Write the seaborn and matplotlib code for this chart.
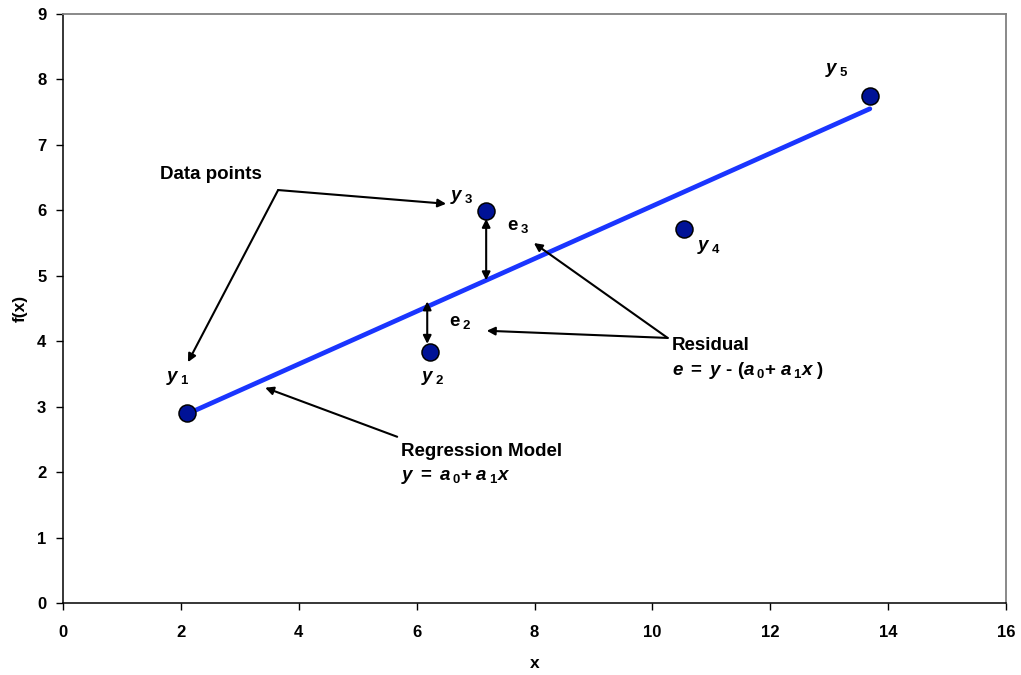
import matplotlib
matplotlib.use("Agg")
import matplotlib.pyplot as plt
import seaborn as sns
import numpy as np
import pandas as pd

# ---- data ----
x_values = [2.10, 6.23, 7.18, 10.54, 13.69]
y_values = [2.90, 3.84, 5.99, 5.72, 7.75]
x_ticks = [0, 2, 4, 6, 8, 10, 12, 14, 16]
y_ticks = [0, 1, 2, 3, 4, 5, 6, 7, 8, 9]

df = pd.DataFrame({"x": x_values, "f(x)": y_values})

sns.set_theme(style="white")
plt.rcParams["font.family"] = ["Liberation Sans", "DejaVu Sans"]
plt.rcParams["text.color"] = "black"
plt.rcParams["axes.labelcolor"] = "black"
plt.rcParams["xtick.color"] = "black"
plt.rcParams["ytick.color"] = "black"
plt.rcParams["mathtext.fontset"] = "custom"
plt.rcParams["mathtext.it"] = "Liberation Sans:italic:bold"
plt.rcParams["mathtext.rm"] = "Liberation Sans:bold"
plt.rcParams["mathtext.bf"] = "Liberation Sans:bold"
plt.rcParams["mathtext.sf"] = "Liberation Sans:bold"

fig = plt.figure(figsize=(10.21, 6.75), dpi=100)
ax = fig.add_axes([63 / 1021, 72 / 675, 943 / 1021, 589 / 675])

# regression line (least squares through the data)
sns.regplot(data=df, x="x", y="f(x)", ax=ax, scatter=False, ci=None,
            truncate=True, line_kws=dict(color="#1a35ff", lw=3.4,
                                         solid_capstyle="round", zorder=2))
slope, intercept = np.polyfit(x_values, y_values, 1)

sns.scatterplot(data=df, x="x", y="f(x)", ax=ax, s=150, color="#001296",
                edgecolor="black", linewidth=1.1, zorder=4)

ax.set_xlim(0, 16)
ax.set_ylim(0, 9)
ax.set_xticks(x_ticks)
ax.set_yticks(y_ticks)
ax.tick_params(axis="both", which="both", direction="out", length=5, width=1,
               color="black", labelcolor="black", labelsize=12, bottom=True, left=True)
ax.tick_params(axis="x", pad=11)
ax.tick_params(axis="y", pad=7)
for lab in ax.get_xticklabels() + ax.get_yticklabels():
    lab.set_fontweight("bold")
ax.set_xlabel("x", fontsize=12.5, fontweight="bold", labelpad=11, color="black")
ax.set_ylabel("f(x)", fontsize=12.5, fontweight="bold", labelpad=7, color="black")

for side in ["left", "bottom"]:
    ax.spines[side].set_color("black")
    ax.spines[side].set_linewidth(1.1)
for side in ["top", "right"]:
    ax.spines[side].set_color("#808080")
    ax.spines[side].set_linewidth(1.3)

fs = 13.5
arrow = dict(arrowstyle="-|>", color="black", lw=1.5, mutation_scale=12,
             shrinkA=0, shrinkB=0)
darrow = dict(arrowstyle="<|-|>", color="black", lw=1.5, mutation_scale=12,
              shrinkA=0, shrinkB=0)

# point labels
pt_labels = [r"$y\,{}_{1}$", r"$y\,{}_{2}$", r"$y\,{}_{3}$", r"$y\,{}_{4}$", r"$y\,{}_{5}$"]
label_pos = [(1.75, 3.44), (6.07, 3.44), (6.57, 6.20), (10.76, 5.44), (12.93, 8.14)]
for t, (lx, ly) in zip(pt_labels, label_pos):
    ax.text(lx, ly, t, fontsize=fs, ha="left", va="center")

# residual labels
ax.text(7.53, 5.76, r"$\mathrm{e}\,{}_{3}$", fontsize=fs, ha="left", va="center")
ax.text(6.55, 4.29, r"$\mathrm{e}\,{}_{2}$", fontsize=fs, ha="left", va="center")

# residual vertical arrows
for i, off in [(1, -0.05), (2, 0.0)]:
    xi = x_values[i] + off
    yhat = intercept + slope * xi
    ytop = y_values[i] - 0.12 if y_values[i] > yhat else y_values[i] + 0.12
    ax.annotate("", xy=(xi, ytop), xytext=(xi, yhat + (0.08 if y_values[i] < yhat else 0.0)),
                arrowprops=darrow, zorder=5)

# Data points callout
ax.text(1.65, 6.54, "Data points", fontsize=fs, fontweight="bold", ha="left", va="center")
ax.annotate("", xy=(6.50, 6.10), xytext=(3.65, 6.31), arrowprops=arrow)
ax.annotate("", xy=(2.12, 3.68), xytext=(3.65, 6.31), arrowprops=arrow)

# Residual callout
ax.text(10.33, 3.94, "Residual", fontsize=fs, fontweight="bold", ha="left", va="center")
ax.text(10.33, 3.56, r"$e\;\mathrm{=}\;y\ \text{-}\ \mathrm{(}a\,{}_{0}\mathrm{+}\;a\,{}_{1}x\;\mathrm{)}$",
        fontsize=fs, ha="left", va="center")
ax.annotate("", xy=(7.19, 4.16), xytext=(10.26, 4.05), arrowprops=arrow)
ax.annotate("", xy=(7.99, 5.50), xytext=(10.26, 4.05), arrowprops=arrow)

# Regression model callout
ax.text(5.73, 2.31, "Regression Model", fontsize=fs, fontweight="bold", ha="left", va="center")
ax.text(5.73, 1.93, r"$y\;\mathrm{=}\;a\,{}_{0}\mathrm{+}\;a\,{}_{1}x$", fontsize=fs, ha="left", va="center")
ax.annotate("", xy=(3.43, 3.29), xytext=(5.67, 2.54), arrowprops=arrow)

fig.savefig("out.png", dpi=100)
